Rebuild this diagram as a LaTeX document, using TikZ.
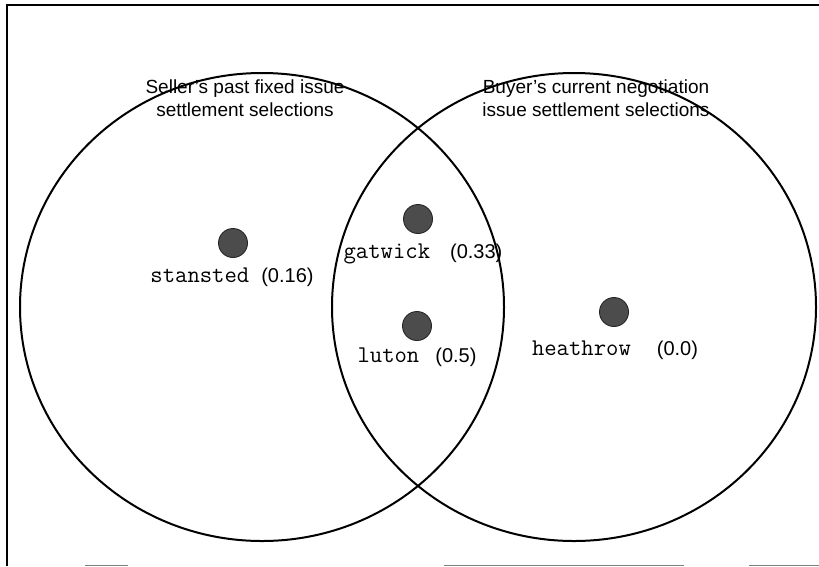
\documentclass[tikz,border=0pt]{standalone}
\usepackage{fontspec}
\setmainfont{Liberation Sans}
\usetikzlibrary{shapes.geometric}
\begin{document}
\begin{tikzpicture}[x=1pt,y=-1pt,
  setring/.style={ellipse, draw, line width=2pt, inner sep=0pt},
  dot/.style={circle, draw=black!85, line width=0.9pt, fill=black!70, minimum size=29pt, inner sep=0pt},
  heading/.style={align=center, font=\fontsize{19}{23.5}\selectfont, inner sep=0pt},
  lbl/.style={font=\fontsize{20}{22}\selectfont, inner sep=0pt}
]
\useasboundingbox (0,0) rectangle (819,566);
% frame
\draw[line width=1.8pt] (7,566) -- (7,5) -- (819,5);
\draw[gray, line width=1pt] (85,565) -- (128,565) (444,565) -- (684,565) (749,565) -- (819,565);

% the two sets
\node[setring, minimum width=484pt, minimum height=468pt] (seller) at (262,307) {};
\node[setring, minimum width=484pt, minimum height=468pt] (buyer) at (574,307) {};

\node[heading] (sellerhead) at (245,98) {Seller's past fixed issue\\settlement selections};
\node[heading] (buyerhead) at (596,98) {Buyer's current negotiation\\issue settlement selections};

% issue settlements
\node[dot] (stansted) at (233,243) {};
\node[dot] (gatwick) at (418,219) {};
\node[dot] (luton) at (417,326) {};
\node[dot] (heathrow) at (614,312) {};

\node[lbl] (stanstedlbl) at (232,277) {{\fontsize{24}{24}\ttfamily stansted}\hspace{12pt}(0.16)};
\node[lbl] (gatwicklbl) at (423,254) {{\fontsize{24}{24}\ttfamily gatwick}\hspace{20pt}(0.33)};
\node[lbl] (lutonlbl) at (417,357) {{\fontsize{24}{24}\ttfamily luton}\hspace{16pt}(0.5)};
\node[lbl] (heathrowlbl) at (615,350) {{\fontsize{24}{24}\ttfamily heathrow}\hspace{26pt}(0.0)};
\end{tikzpicture}
\end{document}
